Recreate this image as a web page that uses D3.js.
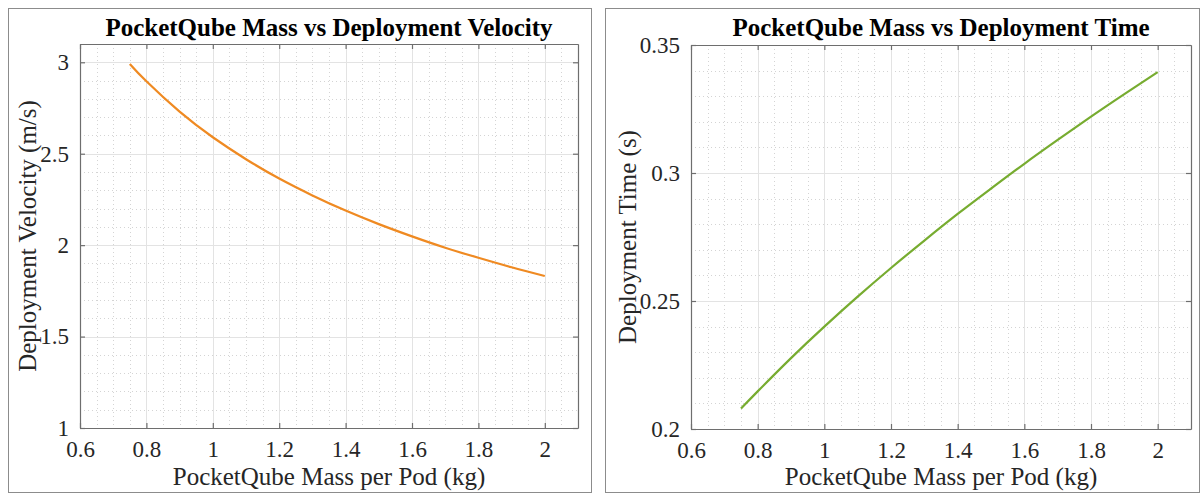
<!DOCTYPE html>
<html>
<head>
<meta charset="utf-8">
<script src="https://cdn.jsdelivr.net/npm/d3@7"></script>
<style>
  html, body { margin: 0; padding: 0; background: #fff; }
  svg { display: block; }
  text { font-family: "Liberation Serif", "Times New Roman", serif; fill: #262626; }
</style>
</head>
<body>
<svg id="chart" width="1202" height="495"></svg>
<script>
// Mass per pod (kg) sampled along both curves
const massKg = [0.75, 0.8, 0.9, 1.0, 1.1, 1.2, 1.3, 1.4, 1.5, 1.6, 1.7, 1.8, 1.9, 2.0];
// Deployment velocity (m/s)
const velocity = [2.991, 2.896, 2.730, 2.590, 2.470, 2.364, 2.272, 2.189, 2.115, 2.048, 1.986, 1.931, 1.879, 1.831];
// Deployment time (s)
const deployTime = [0.208, 0.2147, 0.2277, 0.240, 0.2517, 0.2629, 0.2736, 0.284, 0.2939, 0.3036, 0.3129, 0.322, 0.3308, 0.3394];

const xTicks = [0.6, 0.8, 1.0, 1.2, 1.4, 1.6, 1.8, 2.0];
const velTicks = [1, 1.5, 2, 2.5, 3];
const timeTicks = [0.2, 0.25, 0.3, 0.35];

const svg = d3.select("#chart");

const panels = [
  {
    frame: { x: 8.5, y: 8.5, w: 583, h: 484 },
    plot: { left: 80, top: 44, right: 578, bottom: 428 },
    title: "PocketQube Mass vs Deployment Velocity",
    xLabel: "PocketQube Mass per Pod (kg)",
    yLabel: "Deployment Velocity (m/s)",
    xDomain: [0.6, 2.1], yDomain: [1, 3.1],
    yTicks: velTicks, yMinorStep: 0.1,
    values: velocity, color: "#EF8A22",
    yLabelX: 27, fmtY: d => d3.format("")(d)
  },
  {
    frame: { x: 605.5, y: 8.5, w: 594, h: 484 },
    plot: { left: 691, top: 45, right: 1191, bottom: 429 },
    title: "PocketQube Mass vs Deployment Time",
    xLabel: "PocketQube Mass per Pod (kg)",
    yLabel: "Deployment Time (s)",
    xDomain: [0.6, 2.1], yDomain: [0.2, 0.35],
    yTicks: timeTicks, yMinorStep: 0.01,
    values: deployTime, color: "#77AC30",
    yLabelX: 627, fmtY: d => d3.format("")(+d.toFixed(2))
  }
];

panels.forEach(p => {
  const g = svg.append("g");
  const { left, top, right, bottom } = p.plot;

  // outer frame
  g.append("rect")
    .attr("x", p.frame.x).attr("y", p.frame.y)
    .attr("width", p.frame.w).attr("height", p.frame.h)
    .attr("fill", "#fff").attr("stroke", "#8c8c8c").attr("stroke-width", 1);

  const x = d3.scaleLinear().domain(p.xDomain).range([left, right]);
  const y = d3.scaleLinear().domain(p.yDomain).range([bottom, top]);

  // minor grid (dotted)
  const xMinor = d3.range(p.xDomain[0], p.xDomain[1] + 1e-9, 0.05)
    .filter(v => Math.abs(v / 0.2 - Math.round(v / 0.2)) > 1e-6);
  const nY = Math.round((p.yDomain[1] - p.yDomain[0]) / p.yMinorStep);
  const yMinor = d3.range(0, nY + 1).map(i => p.yDomain[0] + i * p.yMinorStep)
    .filter(v => !p.yTicks.some(t => Math.abs(t - v) < 1e-9));

  g.append("g").selectAll("line").data(xMinor).join("line")
    .attr("x1", d => Math.round(x(d)) + 0.5).attr("x2", d => Math.round(x(d)) + 0.5)
    .attr("y1", top).attr("y2", bottom)
    .attr("stroke", "#d4d4d4").attr("stroke-width", 1).attr("stroke-dasharray", "1,3");
  g.append("g").selectAll("line").data(yMinor).join("line")
    .attr("y1", d => Math.round(y(d)) + 0.5).attr("y2", d => Math.round(y(d)) + 0.5)
    .attr("x1", left).attr("x2", right)
    .attr("stroke", "#d4d4d4").attr("stroke-width", 1).attr("stroke-dasharray", "1,3");

  // major grid
  g.append("g").selectAll("line").data(xTicks).join("line")
    .attr("x1", d => Math.round(x(d)) + 0.5).attr("x2", d => Math.round(x(d)) + 0.5)
    .attr("y1", top).attr("y2", bottom)
    .attr("stroke", "#e3e3e3").attr("stroke-width", 1);
  g.append("g").selectAll("line").data(p.yTicks).join("line")
    .attr("y1", d => Math.round(y(d)) + 0.5).attr("y2", d => Math.round(y(d)) + 0.5)
    .attr("x1", left).attr("x2", right)
    .attr("stroke", "#e3e3e3").attr("stroke-width", 1);

  // data line
  const line = d3.line()
    .x((d, i) => x(massKg[i]))
    .y(d => y(d))
    .curve(d3.curveNatural);
  g.append("path").datum(p.values)
    .attr("d", line)
    .attr("fill", "none").attr("stroke", p.color).attr("stroke-width", 2.2);

  // axes with inward ticks
  const axisColor = "#6e6e6e";
  const bottomAxis = g.append("g").attr("transform", `translate(0,${bottom})`)
    .call(d3.axisBottom(x).tickValues(xTicks).tickSizeInner(-5).tickSizeOuter(0)
      .tickPadding(13).tickFormat(d => d3.format("")(+d.toFixed(1))));
  const topAxis = g.append("g").attr("transform", `translate(0,${top})`)
    .call(d3.axisTop(x).tickValues(xTicks).tickSizeInner(-5).tickSizeOuter(0).tickFormat(""));
  const leftAxis = g.append("g").attr("transform", `translate(${left},0)`)
    .call(d3.axisLeft(y).tickValues(p.yTicks).tickSizeInner(-5).tickSizeOuter(0)
      .tickPadding(11).tickFormat(p.fmtY));
  const rightAxis = g.append("g").attr("transform", `translate(${right},0)`)
    .call(d3.axisRight(y).tickValues(p.yTicks).tickSizeInner(-5).tickSizeOuter(0).tickFormat(""));

  [bottomAxis, topAxis, leftAxis, rightAxis].forEach(a => {
    a.select(".domain").attr("stroke", axisColor).attr("stroke-width", 1.2);
    a.selectAll(".tick line").attr("stroke", axisColor).attr("stroke-width", 1.2);
    a.selectAll(".tick text")
      .style("font-family", "'Liberation Serif', 'Times New Roman', serif")
      .style("font-size", "23px").style("fill", "#262626");
  });

  // title
  g.append("text")
    .attr("x", (left + right) / 2).attr("y", 36)
    .attr("text-anchor", "middle")
    .style("font-size", "25px").style("font-weight", "bold").style("fill", "#000")
    .text(p.title);

  // x label
  g.append("text")
    .attr("x", (left + right) / 2).attr("y", 485)
    .attr("text-anchor", "middle")
    .style("font-size", "25px")
    .text(p.xLabel);

  // y label
  g.append("text")
    .attr("transform", `translate(${p.yLabelX},${(top + bottom) / 2}) rotate(-90)`)
    .attr("text-anchor", "middle")
    .attr("dy", "0.35em")
    .style("font-size", "25px")
    .text(p.yLabel);
});
</script>
</body>
</html>
